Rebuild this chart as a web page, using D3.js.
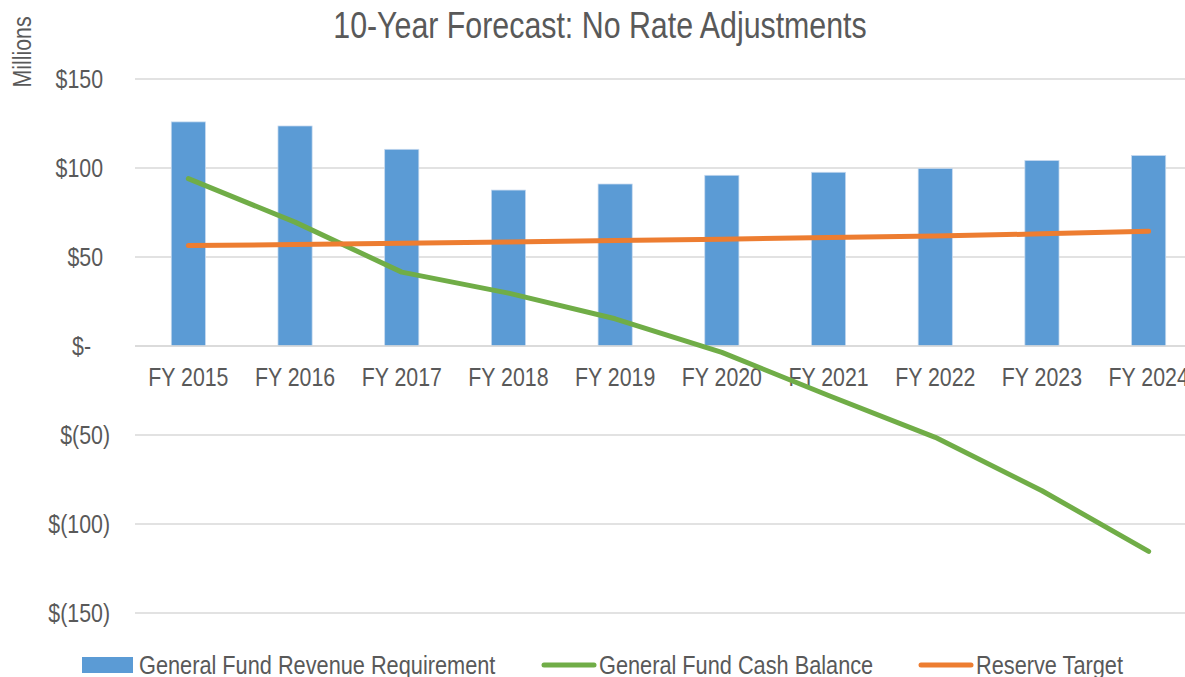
<!DOCTYPE html>
<html>
<head>
<meta charset="utf-8">
<script src="https://cdn.jsdelivr.net/npm/d3@7"></script>
<style>
  body { margin: 0; background: #fff; }
  svg { display: block; font-family: "Liberation Sans", Arial, sans-serif; }
</style>
</head>
<body>
<div id="chart"></div>
<script>
// 10-Year Forecast: No Rate Adjustments (values in $ millions)

//_____ DATA _____
const years = [ 'FY 2015', 'FY 2016', 'FY 2017', 'FY 2018', 'FY 2019', 'FY 2020', 'FY 2021', 'FY 2022', 'FY 2023', 'FY 2024' ];
const revenueRequirement = [ 125.9, 123.6, 110.5, 87.6, 91.0, 95.9, 97.6, 99.7, 104.2, 107.0 ];
const cashBalance = [ 94.0, 69.6, 41.5, 29.7, 15.3, -3.6, -27.8, -51.3, -81.3, -115.4 ];
const reserveTarget = [ 56.4, 57.0, 57.7, 58.4, 59.2, 60.0, 60.9, 61.8, 63.0, 64.4 ];
const yTicks = [ -150, -100, -50, 0, 50, 100, 150 ];

//_____ LAYOUT _____
const W = 1185, H = 677;
const plot = { left: 135, right: 1202, top: 79, bottom: 613 };
const textColor = '#595959';
const blue = '#5b9bd5', green = '#70ad47', orange = '#ed7d31';
const narrow = 0.82; //--- no narrow font installed, so squeeze the glyphs

const svg = d3.select( '#chart' ).append( 'svg' )
  .attr( 'width', W )
  .attr( 'height', H );

//_____ SCALES _____
const x = d3.scaleBand()
  .domain( years )
  .range( [ plot.left, plot.right ] )
  .paddingInner( 0.68 )
  .paddingOuter( 0.34 );

const y = d3.scaleLinear()
  .domain( [ -150, 150 ] )
  .range( [ plot.bottom, plot.top ] );

//_____ GRIDLINES _____
svg.append( 'g' )
  .selectAll( 'line' )
  .data( yTicks )
  .join( 'line' )
  .attr( 'x1', plot.left )
  .attr( 'x2', W )
  .attr( 'y1', d => y( d ) )
  .attr( 'y2', d => y( d ) )
  .attr( 'stroke', '#d9d9d9' )
  .attr( 'stroke-width', 1.5 );

//_____ Y AXIS (accounting format) _____
const fmt = d => d === 0 ? '$-' : d < 0 ? `$(${ -d })` : `$${ d }`;
const yAxis = svg.append( 'g' )
  .attr( 'transform', `translate( ${plot.left}, 0 )` )
  .call( d3.axisLeft( y ).tickValues( yTicks ).tickSize( 0 ).tickPadding( 25 ).tickFormat( fmt ) );
yAxis.select( '.domain' ).remove();
yAxis.selectAll( 'text' )
  .attr( 'dx', d => d > 0 ? -7 : d === 0 ? -19 : 0 )
  .style( 'font-size', '26px' )
  .style( 'font-family', null )
  .attr( 'fill', textColor );

//_____ BARS _____
svg.append( 'g' )
  .selectAll( 'rect' )
  .data( revenueRequirement )
  .join( 'rect' )
  .attr( 'x', ( d, i ) => x( years[ i ] ) )
  .attr( 'width', x.bandwidth() )
  .attr( 'y', d => y( d ) )
  .attr( 'height', d => y( 0 ) - y( d ) )
  .attr( 'fill', blue )
  .attr( 'stroke', '#c6d9ef' )
  .attr( 'stroke-width', 0.75 );

// zero line sits over the bar feet
svg.append( 'line' )
  .attr( 'x1', plot.left ).attr( 'x2', W )
  .attr( 'y1', y( 0 ) ).attr( 'y2', y( 0 ) )
  .attr( 'stroke', '#d9d9d9' )
  .attr( 'stroke-width', 1.5 );

//_____ X AXIS LABELS _____
const xAxis = svg.append( 'g' )
  .attr( 'transform', `translate( 0, ${y( 0 )} )` )
  .call( d3.axisBottom( x ).tickSize( 0 ).tickPadding( 22 ) );
xAxis.select( '.domain' ).remove();
xAxis.selectAll( 'text' )
  .style( 'font-size', '26px' )
  .style( 'font-family', null )
  .attr( 'fill', textColor );

//_____ LINES _____
const line = d3.line()
  .x( ( d, i ) => x( years[ i ] ) + x.bandwidth() / 2 )
  .y( d => y( d ) );

svg.append( 'path' )
  .datum( cashBalance )
  .attr( 'd', line )
  .attr( 'fill', 'none' )
  .attr( 'stroke', green )
  .attr( 'stroke-width', 5 )
  .attr( 'stroke-linecap', 'round' )
  .attr( 'stroke-linejoin', 'round' );

svg.append( 'path' )
  .datum( reserveTarget )
  .attr( 'd', line )
  .attr( 'fill', 'none' )
  .attr( 'stroke', orange )
  .attr( 'stroke-width', 5 )
  .attr( 'stroke-linecap', 'round' )
  .attr( 'stroke-linejoin', 'round' );

//_____ TITLE _____
svg.append( 'text' )
  .attr( 'x', 600 )
  .attr( 'y', 38 )
  .attr( 'text-anchor', 'middle' )
  .attr( 'fill', textColor )
  .style( 'font-size', '37px' )
  .text( '10-Year Forecast: No Rate Adjustments' );

//_____ Y UNIT LABEL _____
svg.append( 'text' )
  .attr( 'transform', 'translate( 31, 52 ) rotate( -90 )' )
  .attr( 'text-anchor', 'middle' )
  .attr( 'fill', textColor )
  .style( 'font-size', '26px' )
  .text( 'Millions' );

//_____ LEGEND _____
const legendItems = [
  { label: 'General Fund Revenue Requirement', type: 'rect', color: blue, x: 82 },
  { label: 'General Fund Cash Balance', type: 'line', color: green, x: 542 },
  { label: 'Reserve Target', type: 'line', color: orange, x: 919 }
];
const legendY = 665;
const legend = svg.append( 'g' ).attr( 'id', 'legend' );
legendItems.forEach( item => {
  if ( item.type === 'rect' ) {
    legend.append( 'rect' )
      .attr( 'x', item.x ).attr( 'y', legendY - 8 )
      .attr( 'width', 51 ).attr( 'height', 16 )
      .attr( 'fill', item.color );
  } else {
    legend.append( 'line' )
      .attr( 'x1', item.x + 2 ).attr( 'x2', item.x + 52 )
      .attr( 'y1', legendY ).attr( 'y2', legendY )
      .attr( 'stroke', item.color )
      .attr( 'stroke-width', 5 )
      .attr( 'stroke-linecap', 'round' );
  }
  legend.append( 'text' )
    .attr( 'x', item.x + 57 )
    .attr( 'y', legendY + 9 )
    .attr( 'fill', textColor )
    .style( 'font-size', '26.5px' )
    .text( item.label );
} );

//>>> Condense every label to mimic the narrow typeface:
svg.selectAll( 'text' ).each( function () {
  const len = this.getComputedTextLength();
  d3.select( this )
    .attr( 'textLength', len * narrow )
    .attr( 'lengthAdjust', 'spacingAndGlyphs' );
} );
</script>
</body>
</html>
